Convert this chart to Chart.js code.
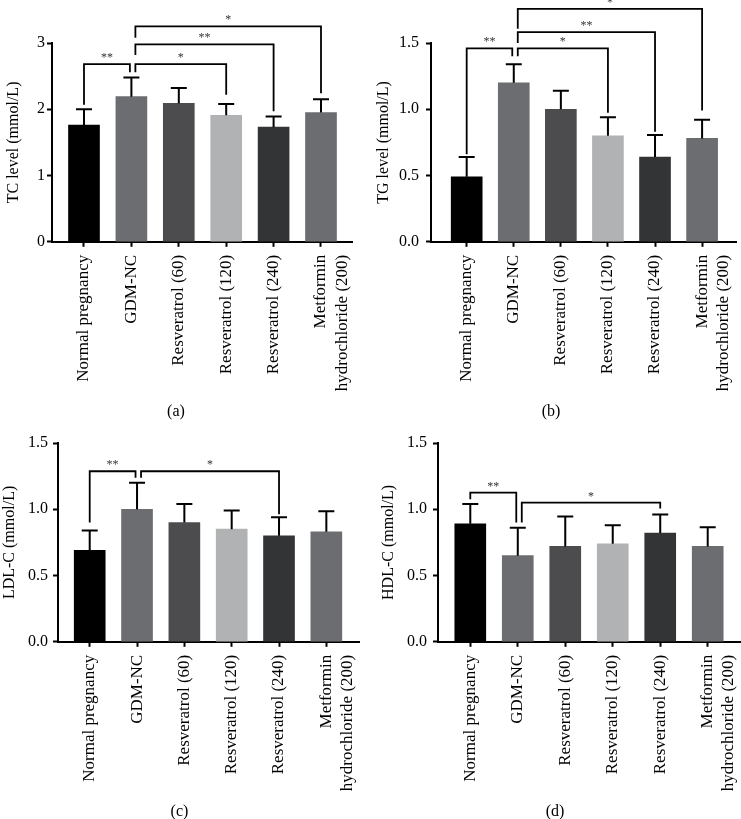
<!DOCTYPE html>
<html>
<head>
<meta charset="utf-8">
<script src="https://cdn.jsdelivr.net/npm/chart.js@4.4.1/dist/chart.umd.min.js"></script>
<style>
  html, body { margin: 0; padding: 0; background: #fff; width: 741px; height: 819px; overflow: hidden; position: relative; }
  canvas { position: absolute; }
</style>
</head>
<body>
<canvas id="tc" width="356" height="424" style="left:0;top:0"></canvas>
<canvas id="tg" width="371" height="424" style="left:366px;top:0"></canvas>
<canvas id="ldl" width="360" height="424" style="left:0;top:400px"></canvas>
<canvas id="hdl" width="371" height="424" style="left:370px;top:400px"></canvas>
<script>
const groups = ['Normal pregnancy', 'GDM-NC', 'Resveratrol (60)', 'Resveratrol (120)', 'Resveratrol (240)', ['Metformin', 'hydrochloride (200)']];
const barColors = ['#000000', '#6c6d71', '#4c4c4f', '#b1b2b4', '#333436', '#6c6d71'];

// mean and SD (upper error only) per group
const tcMean = [1.76, 2.19, 2.09, 1.91, 1.73, 1.95];
const tcSd   = [0.24, 0.29, 0.23, 0.17, 0.16, 0.20];
const tgMean = [0.49, 1.20, 1.00, 0.80, 0.64, 0.78];
const tgSd   = [0.15, 0.14, 0.14, 0.14, 0.165, 0.14];
const ldlMean = [0.69, 1.00, 0.90, 0.85, 0.80, 0.83];
const ldlSd   = [0.15, 0.20, 0.14, 0.14, 0.14, 0.155];
const hdlMean = [0.89, 0.65, 0.72, 0.74, 0.82, 0.72];
const hdlSd   = [0.15, 0.21, 0.225, 0.14, 0.14, 0.145];

// significance brackets: [from, to, level, left leg end, right leg end, mark]
const tcBrackets = [
    [0, 1, 2.68, 2.07, 2.56, '**'],
    [1, 3, 2.68, 2.56, 2.22, '*'],
    [1, 4, 2.98, 2.82, 1.97, '**'],
    [1, 5, 3.25, 3.08, 2.24, '*'],
];
const tgBrackets = [
    [0, 1, 1.46, 0.66, 1.40, '**'],
    [1, 3, 1.46, 1.40, 0.973, '*'],
    [1, 4, 1.582, 1.50, 0.83, '**'],
    [1, 5, 1.757, 1.607, 0.99, '*'],
];
const ldlBrackets = [
    [0, 1, 1.287, 0.90, 1.238, '**'],
    [1, 4, 1.287, 1.238, 0.962, '*'],
];
const hdlBrackets = [
    [0, 1, 1.125, 1.075, 0.90, '**'],
    [1, 4, 1.05, 0.90, 1.005, '*'],
];

const serif = '"Liberation Serif", "Times New Roman", serif';

// error bars + brackets drawn from the chart's own scales
const overlay = {
    id: 'overlay',
    afterDatasetsDraw(chart, args, opts) {
        const { ctx } = chart;
        const x = chart.scales.x, y = chart.scales.y;
        ctx.save();
        ctx.strokeStyle = '#000';
        ctx.lineWidth = 2;
        opts.mean.forEach((m, i) => {
            const px = x.getPixelForValue(i);
            const y0 = y.getPixelForValue(m);
            const y1 = y.getPixelForValue(m + opts.sd[i]);
            ctx.beginPath();
            ctx.moveTo(px, y0);
            ctx.lineTo(px, y1);
            ctx.moveTo(px - 8, y1);
            ctx.lineTo(px + 8, y1);
            ctx.stroke();
        });
        ctx.lineWidth = 1.8;
        ctx.font = '12px ' + serif;
        ctx.textAlign = 'center';
        ctx.fillStyle = '#333';
        opts.brackets.forEach(([a, b, lvl, endA, endB, mark]) => {
            const xa = x.getPixelForValue(a) + (a === 1 ? 4 : 0);
            const xb = x.getPixelForValue(b) + (b === 1 ? -1.5 : 0);
            const yl = y.getPixelForValue(lvl);
            ctx.beginPath();
            ctx.moveTo(xa, y.getPixelForValue(endA));
            ctx.lineTo(xa, yl);
            ctx.lineTo(xb, yl);
            ctx.lineTo(xb, y.getPixelForValue(endB));
            ctx.stroke();
            ctx.fillText(mark, (xa + xb) / 2, yl - 3);
        });
        ctx.restore();
    }
};

function makeChart(id, p) {
    return new Chart(document.getElementById(id), {
        type: 'bar',
        data: {
            datasets: [{
                data: p.mean.map((m, i) => ({ x: i, y: m })),
                backgroundColor: barColors,
                borderWidth: 0,
                barThickness: 31,
            }],
        },
        options: {
            responsive: false,
            animation: false,
            devicePixelRatio: 1,
            layout: { padding: { top: 43, right: p.padRight, left: 0, bottom: 0 } },
            plugins: {
                legend: { display: false },
                tooltip: { enabled: false },
                title: {
                    display: true,
                    position: 'bottom',
                    text: p.panel,
                    color: '#000',
                    font: { family: serif, size: 16, weight: 'normal' },
                    padding: { top: 0, bottom: 3 },
                },
                overlay: { mean: p.mean, sd: p.sd, brackets: p.brackets },
            },
            scales: {
                x: {
                    type: 'linear',
                    offset: false,
                    min: p.xMin,
                    max: p.xMax,
                    afterBuildTicks: s => { s.ticks = groups.map((g, i) => ({ value: i })); },
                    afterFit: s => { s.height = 160; s.paddingLeft = 0; s.paddingRight = 0; },
                    ticks: {
                        autoSkip: false,
                        minRotation: 90,
                        maxRotation: 90,
                        padding: 8,
                        color: '#000',
                        // single-line labels get a tiny line height so they sit centred on the tick
                        font: c => ({ family: serif, size: 17, lineHeight: Array.isArray(groups[c.index]) ? 1.25 : 0.01 }),
                        callback: v => groups[v],
                    },
                    grid: { offset: false, drawOnChartArea: false, color: '#000', tickLength: 5, tickWidth: 2 },
                    border: { color: '#000', width: 2 },
                },
                y: {
                    min: 0,
                    max: p.yMax,
                    afterFit: s => { s.width = p.yWidth; s.paddingTop = 0; s.paddingBottom = 0; },
                    ticks: {
                        stepSize: p.yStep,
                        padding: p.tickPad,
                        color: '#000',
                        font: { family: serif, size: 16 },
                        callback: v => v.toFixed(p.decimals),
                    },
                    grid: { drawOnChartArea: false, color: '#000', tickLength: 5, tickWidth: 2 },
                    border: { color: '#000', width: 2 },
                    title: {
                        display: true,
                        text: p.yTitle,
                        color: '#000',
                        font: { family: serif, size: 16 },
                        padding: { top: p.titlePad, bottom: 0 },
                    },
                },
            },
        },
        plugins: [overlay],
    });
}

document.addEventListener('DOMContentLoaded', function() {
    makeChart('tc', { mean: tcMean, sd: tcSd, brackets: tcBrackets, yMax: 3, yStep: 1, decimals: 0,
        yTitle: 'TC level (mmol/L)', panel: '(a)', xMin: -0.675, xMax: 5.654, yWidth: 52, padRight: 4, tickPad: 2, titlePad: 4 });
    makeChart('tg', { mean: tgMean, sd: tgSd, brackets: tgBrackets, yMax: 1.5, yStep: 0.5, decimals: 1,
        yTitle: 'TG level (mmol/L)', panel: '(b)', xMin: -0.758, xMax: 5.72, yWidth: 65, padRight: 1, tickPad: 7, titlePad: 8 });
    makeChart('ldl', { mean: ldlMean, sd: ldlSd, brackets: ldlBrackets, yMax: 1.5, yStep: 0.5, decimals: 1,
        yTitle: 'LDL-C (mmol/L)', panel: '(c)', xMin: -0.67, xMax: 5.69, yWidth: 58, padRight: 1, tickPad: 5, titlePad: 0 });
    makeChart('hdl', { mean: hdlMean, sd: hdlSd, brackets: hdlBrackets, yMax: 1.5, yStep: 0.5, decimals: 1,
        yTitle: 'HDL-C (mmol/L)', panel: '(d)', xMin: -0.68, xMax: 5.68, yWidth: 68, padRight: 1, tickPad: 6, titlePad: 9 });
});
</script>
</body>
</html>
